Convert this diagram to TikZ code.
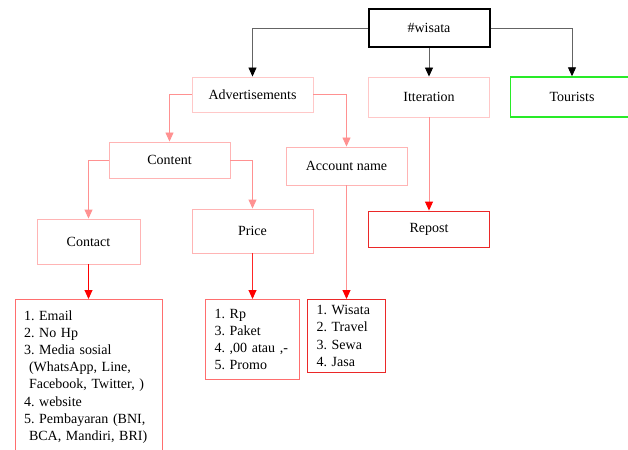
\documentclass[tikz,border=0pt]{standalone}
\usepackage{fontspec}
\setmainfont{Liberation Serif}
\usetikzlibrary{arrows.meta}

\definecolor{palepink}{RGB}{255,200,200}
\definecolor{softpink}{RGB}{255,180,180}
\definecolor{linkpink}{RGB}{255,145,145}
\definecolor{listred}{RGB}{255,110,110}
\definecolor{deepred}{RGB}{235,40,40}
\definecolor{linkgrey}{RGB}{100,100,100}
\definecolor{tourgreen}{RGB}{40,235,40}

\begin{document}
\begin{tikzpicture}[
  x = 1pt,
  y = -1pt,
  line width = 0.9pt,
  box/.style = {
    shape = rectangle,
    draw,
    minimum width = 121pt,
    minimum height = 36pt,
    inner sep = 0pt,
    font = \fontsize{14}{17}\selectfont
  },
  listbox/.style = {
    shape = rectangle,
    draw,
    anchor = north,
    align = left,
    font = \fontsize{14}{17.2}\selectfont\frenchspacing
  },
  link/.style = {
    -{Triangle[length = 9pt, width = 8pt, color = #1]}
  }
]
  \useasboundingbox (0, 0) rectangle (628, 449);
  \clip (0, 0) rectangle (628, 449);

  \draw node[box, line width = 2pt, minimum height = 38pt] (wis) at (429, 28) {\#wisata};

  \draw node[box, draw = palepink, minimum height = 35pt] (adv) at (252.5, 94.5) {Advertisements};
  \draw node[box, draw = palepink, minimum height = 40pt] (iter) at (429, 97) {Itteration};
  \draw node[box, draw = tourgreen, line width = 1.4pt, minimum width = 123pt, minimum height = 40pt] (tour) at (572, 97) {Tourists};

  \draw node[box, draw = softpink] (cont) at (169.5, 160) {Content};
  \draw node[box, draw = softpink, minimum height = 38pt] (acc) at (346.5, 166) {Account name};

  \draw node[box, draw = softpink, minimum width = 103pt, minimum height = 45pt] (contact) at (88.5, 241.5) {Contact};
  \draw node[box, draw = softpink, minimum height = 44pt] (price) at (252.5, 231) {Price};
  \draw node[box, draw = deepred] (repost) at (429, 229) {Repost};

  \draw node[listbox, draw = listred, text width = 129pt, inner xsep = 9pt, inner ysep = 11pt] (L1) at (88.5, 299) {%
    1. Email\\
    2. No Hp\\
    3. Media sosial\\
    \hspace*{5pt}(WhatsApp, Line,\\
    \hspace*{5pt}Facebook, Twitter, )\\
    4. website\\
    5. Pembayaran (BNI,\\
    \hspace*{5pt}BCA, Mandiri, BRI)};
  \draw node[listbox, draw = listred, text width = 76pt, inner xsep = 9pt, inner ysep = 9.5pt] (L2) at (252.5, 299) {%
    1. Rp\\
    3. Paket\\
    4. ,00 atau ,-\\
    5. Promo};
  \draw node[listbox, draw = deepred, text width = 60pt, inner xsep = 9pt, inner ysep = 6pt] (L3) at (346.5, 299) {%
    1. Wisata\\
    2. Travel\\
    3. Sewa\\
    4. Jasa};

  \draw[link = black, color = linkgrey] (wis.west) -| (adv.north);
  \draw[link = black, color = linkgrey] (wis.south) -- (iter.north);
  \draw[link = black, color = linkgrey] (wis.east) -| (tour.north);

  \draw[link = linkpink, color = linkpink] (adv.west) -| (cont.north);
  \draw[link = linkpink, color = linkpink] (adv.east) -| (acc.north);
  \draw[link = linkpink, color = linkpink] (cont.west) -| (contact.north);
  \draw[link = linkpink, color = linkpink] (cont.east) -| (price.north);
  \draw[link = red, color = linkpink] (iter.south) -- (repost.north);

  \draw[link = red, color = red] (contact.south) -- (L1.north);
  \draw[link = red, color = red!85!white] (price.south) -- (L2.north);
  \draw[link = red, color = linkpink] (acc.south) -- (L3.north);
\end{tikzpicture}
\end{document}
